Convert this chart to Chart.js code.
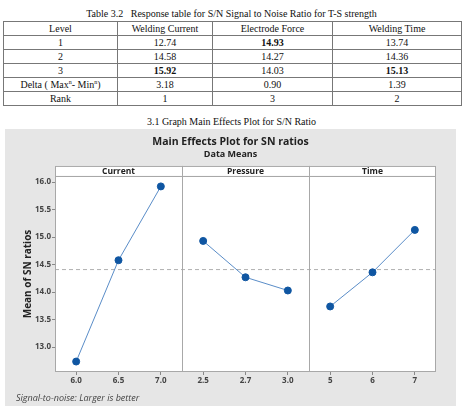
<!DOCTYPE html>
<html>
<head>
<meta charset="utf-8">
<script src="https://cdn.jsdelivr.net/npm/chart.js@4.4.1/dist/chart.umd.min.js"></script>
<style>
  body { margin: 0; width: 463px; height: 419px; background: #fff; position: relative; overflow: hidden; font-family: "Liberation Serif", serif; color: #111; }
  .cap { position: absolute; left: 0; width: 463px; text-align: center; font-size: 10px; line-height: 12px; white-space: pre; }
  table { position: absolute; left: 3px; top: 21px; width: 458px; border-collapse: collapse; table-layout: fixed; font-size: 10px; }
  td { border: 1px solid #777; text-align: center; padding: 0; height: 13px; line-height: 12px; }
  sup { font-size: 6px; line-height: 0; }
  #panel { position: absolute; left: 5px; top: 129px; width: 451px; height: 277px; background: #e6e6e6; }
  #note { position: absolute; left: 11px; top: 263px; font: italic 9px "Open Sans", sans-serif; color: #444; line-height: 12px; }
</style>
</head>
<body>
<div class="cap" style="top:8px">Table 3.2   Response table for S/N Signal to Noise Ratio for T-S strength</div>
<table id="respTable">
  <colgroup><col style="width:114px"><col style="width:95px"><col style="width:120px"><col style="width:129px"></colgroup>
  <tbody></tbody>
</table>
<div class="cap" style="top:116px">3.1 Graph Main Effects Plot for S/N Ratio</div>
<div id="panel">
  <canvas id="mainFx" width="451" height="277"></canvas>
  <div id="note">Signal-to-noise: Larger is better</div>
</div>
<script>
// response table columns
const tableHeads = ['Level', 'Welding Current', 'Electrode Force', 'Welding Time'];
const levels = ['1', '2', '3'];
const currentSN = [12.74, 14.58, 15.92];
const pressureSN = [14.93, 14.27, 14.03];
const timeSN = [13.74, 14.36, 15.13];
const deltas = ['3.18', '0.90', '1.39'];
const ranks = ['1', '3', '2'];

// plot labels
const factors = ['Current', 'Pressure', 'Time'];
const levelLabels = ['6.0', '6.5', '7.0', '2.5', '2.7', '3.0', '5', '6', '7'];
const yTicks = [13.0, 13.5, 14.0, 14.5, 15.0, 15.5, 16.0];
const grandMean = 14.41;

// build the table
const tbody = document.querySelector('#respTable tbody');
const series = [currentSN, pressureSN, timeSN];
let html = '<tr>' + tableHeads.map(h => `<td>${h}</td>`).join('') + '</tr>';
levels.forEach((lv, i) => {
  html += `<tr><td>${lv}</td>`;
  series.forEach(s => {
    const best = s[i] === Math.max(...s);
    html += `<td>${best ? '<b>' + s[i].toFixed(2) + '</b>' : s[i].toFixed(2)}</td>`;
  });
  html += '</tr>';
});
html += '<tr><td>Delta ( Max<sup>n</sup>- Min<sup>n</sup>)</td>' + deltas.map(d => `<td>${d}</td>`).join('') + '</tr>';
html += '<tr><td>Rank</td>' + ranks.map(r => `<td>${r}</td>`).join('') + '</tr>';
tbody.innerHTML = html;

const lineColor = '#5a8dc8';
const dotColor = '#0f56a2';

// white plot area, panel dividers and the factor strips
const panelPlugin = {
  id: 'panels',
  beforeDraw(chart) {
    const { ctx, chartArea: a } = chart;
    ctx.save();
    ctx.fillStyle = '#fff';
    ctx.fillRect(a.left, a.top, a.right - a.left, a.bottom - a.top);
    ctx.restore();
  },
  afterDraw(chart) {
    const { ctx, chartArea: a, scales: { x } } = chart;
    ctx.save();
    ctx.strokeStyle = '#a8a8a8';
    ctx.lineWidth = 1;
    ctx.strokeRect(a.left + 0.5, a.top + 0.5, a.right - a.left - 1, a.bottom - a.top - 1);
    [2.5, 5.5].forEach(v => {
      const px = Math.round(x.getPixelForValue(v)) + 0.5;
      ctx.beginPath();
      ctx.moveTo(px, a.top - 10);
      ctx.lineTo(px, a.bottom);
      ctx.stroke();
    });
    const stripH = 10;
    ctx.fillStyle = '#fff';
    ctx.fillRect(a.left, a.top - stripH, a.right - a.left, stripH);
    ctx.strokeRect(a.left + 0.5, a.top - stripH + 0.5, a.right - a.left - 1, stripH);
    [2.5, 5.5].forEach(v => {
      const px = Math.round(x.getPixelForValue(v)) + 0.5;
      ctx.beginPath();
      ctx.moveTo(px, a.top - stripH);
      ctx.lineTo(px, a.top);
      ctx.stroke();
    });
    ctx.fillStyle = '#222';
    ctx.font = 'bold 8.5px "Open Sans"';
    ctx.textAlign = 'center';
    ctx.textBaseline = 'middle';
    factors.forEach((f, p) => {
      ctx.fillText(f, x.getPixelForValue(p * 3 + 1), a.top - stripH / 2 + 0.5);
    });
    ctx.restore();
  }
};

const factorSets = series.map((vals, p) => ({
  label: factors[p],
  data: vals.map((v, i) => ({ x: p * 3 + i, y: v })),
  borderColor: lineColor,
  borderWidth: 1,
  pointRadius: 3.5,
  pointBackgroundColor: dotColor,
  pointBorderColor: dotColor,
  order: 0
}));

new Chart(document.getElementById('mainFx'), {
  type: 'line',
  data: {
    datasets: [
      {
        label: 'mean',
        data: [{ x: -0.5, y: grandMean }, { x: 8.5, y: grandMean }],
        borderColor: '#b0b0b0',
        borderWidth: 1,
        borderDash: [4, 3],
        pointRadius: 0,
        order: 1
      },
      ...factorSets
    ]
  },
  options: {
    responsive: false,
    animation: false,
    layout: { padding: 0 },
    plugins: {
      legend: { display: false },
      tooltip: { enabled: false },
      title: {
        display: true,
        text: 'Main Effects Plot for SN ratios',
        color: '#222',
        font: { family: 'Open Sans', size: 10.5, weight: 'bold', lineHeight: 1.1 },
        padding: { top: 7, bottom: 0 }
      },
      subtitle: {
        display: true,
        text: 'Data Means',
        color: '#222',
        font: { family: 'Open Sans', size: 9, weight: 'bold', lineHeight: 1.1 },
        padding: { top: 2, bottom: 16.5 }
      }
    },
    scales: {
      x: {
        type: 'linear',
        min: -0.5,
        max: 8.5,
        afterBuildTicks: s => { s.ticks = levelLabels.map((_, i) => ({ value: i })); },
        afterFit: s => { s.height = 34; },
        ticks: {
          autoSkip: false,
          maxRotation: 0,
          padding: 1,
          color: '#444',
          font: { family: 'Open Sans', size: 8, weight: 'bold' },
          callback: (v, i) => levelLabels[i]
        },
        grid: { drawOnChartArea: false, tickLength: 3, color: '#888' },
        border: { display: false }
      },
      y: {
        min: 12.55,
        max: 16.11,
        afterBuildTicks: s => { s.ticks = yTicks.map(v => ({ value: v })); },
        afterFit: s => { s.width = 50; },
        ticks: {
          padding: 1,
          color: '#444',
          font: { family: 'Open Sans', size: 8, weight: 'bold' },
          callback: v => v.toFixed(1)
        },
        grid: { drawOnChartArea: false, tickLength: 3, color: '#888' },
        border: { display: false },
        title: {
          display: true,
          text: 'Mean of SN ratios',
          color: '#222',
          font: { family: 'Open Sans', size: 10, weight: 'bold' },
          padding: { top: 17, bottom: 0 }
        }
      },
      // empty right gutter so the title stays centred on the whole panel
      gutter: {
        position: 'right',
        min: 0,
        max: 1,
        ticks: { display: false },
        grid: { display: false },
        border: { display: false },
        afterFit: s => { s.width = 20; }
      }
    }
  },
  plugins: [panelPlugin]
});
</script>
</body>
</html>
